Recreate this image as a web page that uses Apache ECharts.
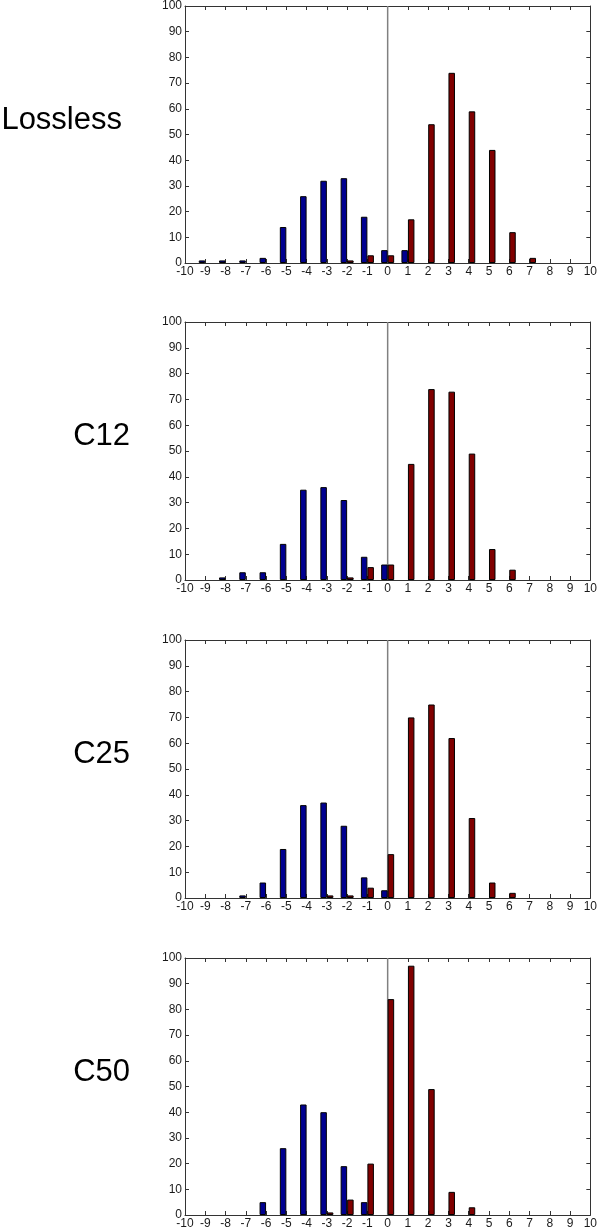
<!DOCTYPE html>
<html><head><meta charset="utf-8">
<script src="https://cdn.jsdelivr.net/npm/echarts@6/dist/echarts.min.js"></script>
<style>html,body{margin:0;padding:0;background:#fff}#c{width:600px;height:1230px}</style>
</head><body><div id="c"></div>
<script>
// Histogram bins
const bins = [-9,-8,-7,-6,-5,-4,-3,-2,-1,0,1,2,3,4,5,6,7,8,9];
const panelNames = ['Lossless','C12','C25','C50'];
const yTicks = [0,10,20,30,40,50,60,70,80,90,100];
const xTicks = [-10,-9,-8,-7,-6,-5,-4,-3,-2,-1,0,1,2,3,4,5,6,7,8,9,10];
const zeroLine = [[0,0],[0,100]];
// values per bin (blue = first series, red = second series)
const losslessBlue = [1,1,1,2,14,26,32,33,18,5,5,0,0,0,0,0,0,0,0];
const losslessRed  = [0,0,0,0,0,0,0,1,3,3,17,54,74,59,44,12,2,0,0];
const c12Blue = [0,1,3,3,14,35,36,31,9,6,0,0,0,0,0,0,0,0,0];
const c12Red  = [0,0,0,0,0,0,0,1,5,6,45,74,73,49,12,4,0,0,0];
const c25Blue = [0,0,1,6,19,36,37,28,8,3,0,0,0,0,0,0,0,0,0];
const c25Red  = [0,0,0,0,0,0,1,1,4,17,70,75,62,31,6,2,0,0,0];
const c50Blue = [0,0,0,5,26,43,40,19,5,0,0,0,0,0,0,0,0,0,0];
const c50Red  = [0,0,0,0,0,0,1,6,20,84,97,49,9,3,0,0,0,0,0];

const blueSets = [losslessBlue,c12Blue,c25Blue,c50Blue];
const redSets = [losslessRed,c12Red,c25Red,c50Red];

const tops = [5,322,640,958];
const gridH = 258, gridL = 185, gridW = 409;
const labelRight = [122,130,130,130];
const labelY = [121,437,755,1073];
const font = 'Liberation Sans, Arial, Helvetica, sans-serif';
const axisCol = '#333';

const grid=[], xAxis=[], yAxis=[], series=[], graphic=[];
function pairs(arr){ return bins.map((b,i)=>[b,arr[i]]).filter(p=>p[1]>0); }

for(let p=0;p<4;p++){
  grid.push({left:gridL, top:tops[p], width:gridW, height:gridH});
  const common = {type:'value', min:xTicks[0], max:xTicks[xTicks.length-1], interval:1, gridIndex:p,
    axisLine:{show:true, onZero:false, lineStyle:{color:axisCol,width:1}},
    axisTick:{show:true, inside:true, length:4, lineStyle:{color:axisCol}},
    splitLine:{show:false}};
  xAxis.push(Object.assign({}, common, {position:'bottom',
    axisLabel:{show:true, margin:3, fontSize:12, color:'#1a1a1a', fontFamily:font}}));
  xAxis.push(Object.assign({}, common, {position:'top', axisLabel:{show:false}}));
  const ycommon = {type:'value', min:yTicks[0], max:yTicks[yTicks.length-1], interval:10, gridIndex:p,
    axisLine:{show:true, onZero:false, lineStyle:{color:axisCol,width:1}},
    axisTick:{show:true, inside:true, length:4, lineStyle:{color:axisCol}},
    splitLine:{show:false}};
  yAxis.push(Object.assign({}, ycommon, {position:'left',
    axisLabel:{show:true, margin:3, fontSize:12, color:'#1a1a1a', fontFamily:font}}));
  yAxis.push(Object.assign({}, ycommon, {position:'right', axisLabel:{show:false}}));

  series.push({type:'bar', xAxisIndex:2*p, yAxisIndex:2*p, data:pairs(blueSets[p]),
    barWidth:6.5, barGap:'0%',
    itemStyle:{color:'#000090', borderColor:'#000', borderWidth:1},
    animation:false});
  series.push({type:'bar', xAxisIndex:2*p, yAxisIndex:2*p, data:pairs(redSets[p]),
    barWidth:6.5, barGap:'0%',
    itemStyle:{color:'#800000', borderColor:'#000', borderWidth:1},
    animation:false});
  series.push({type:'line', xAxisIndex:2*p, yAxisIndex:2*p, data:zeroLine,
    showSymbol:false, symbol:'none', silent:true, z:1,
    lineStyle:{color:'#808080', width:1.5}, animation:false});
  graphic.push({type:'text', right:600-labelRight[p], top:labelY[p]-16,
    style:{text:panelNames[p], font:'31px '+font, fill:'#000'}});
}

const chart = echarts.init(document.getElementById('c'), null, {renderer:'canvas'});
chart.setOption({animation:false, grid, xAxis, yAxis, series, graphic});
</script></body></html>
